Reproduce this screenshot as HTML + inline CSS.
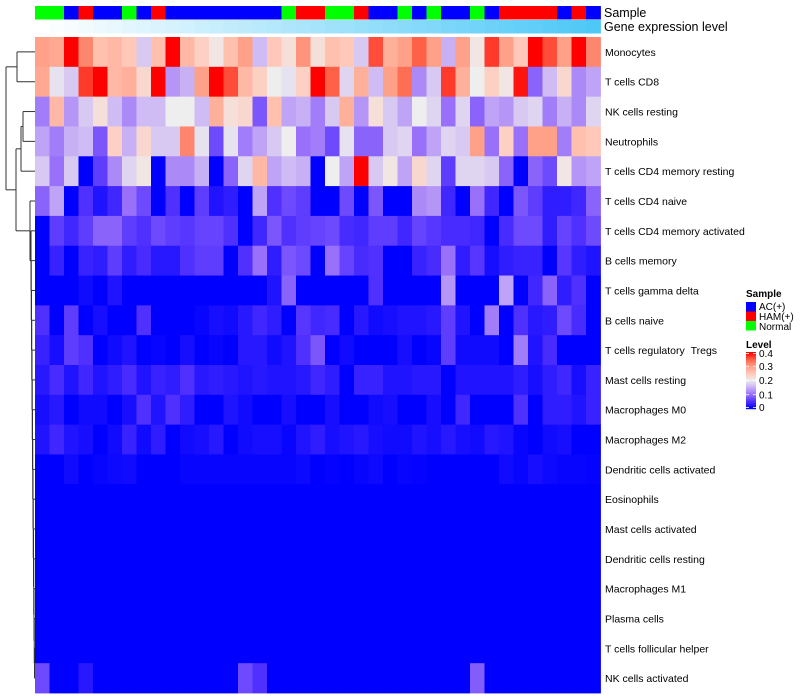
<!DOCTYPE html>
<html><head><meta charset="utf-8"><style>
html,body{margin:0;padding:0;background:#fff;}
svg{display:block;font-family:"Liberation Sans",Arial,sans-serif;}
</style></head><body>
<svg id="chart" width="800" height="700" viewBox="0 0 800 700" xmlns="http://www.w3.org/2000/svg">
<g id="dendro" stroke="#333" stroke-width="1" fill="none"></g>
<g id="topbars"></g>
<g id="cells"></g>
<g id="rowlabels" font-size="10.5" fill="#000"></g>
<text x="604" y="17" font-size="12.5">Sample</text>
<text x="604" y="31" font-size="12.5">Gene expression level</text>
<g>
<text x="746" y="297" font-size="10" font-weight="bold">Sample</text>
<rect x="746" y="302" width="10" height="9.5" fill="#0000ff"/>
<rect x="746" y="311.5" width="10" height="9.5" fill="#ff0000"/>
<rect x="746" y="321" width="10" height="9.5" fill="#00ff00"/>
<text x="759" y="310" font-size="10">AC(+)</text>
<text x="759" y="320" font-size="10">HAM(+)</text>
<text x="759" y="330" font-size="10">Normal</text>
<text x="746" y="348" font-size="10" font-weight="bold">Level</text>
<g id="colorbar"></g>
</g>
</svg>
<script>
const rowNames = ["Monocytes","T cells CD8","NK cells resting","Neutrophils","T cells CD4 memory resting","T cells CD4 naive","T cells CD4 memory activated","B cells memory","T cells gamma delta","B cells naive","T cells regulatory\u00a0\u00a0Tregs","Mast cells resting","Macrophages M0","Macrophages M2","Dendritic cells activated","Eosinophils","Mast cells activated","Dendritic cells resting","Macrophages M1","Plasma cells","T cells follicular helper","NK cells activated"];
const sampleGroups = ["N","N","A","H","A","A","N","A","H","A","A","A","A","A","A","A","A","N","H","H","N","N","H","A","A","N","A","N","A","A","N","A","H","H","H","H","A","H","A"];
const r1 = [.30,.29,.40,.32,.26,.27,.25,.17,.26,.40,.27,.24,.21,.26,.30,.16,.25,.22,.31,.22,.26,.25,.17,.36,.28,.30,.35,.30,.15,.30,.21,.37,.30,.25,.40,.36,.30,.40,.32];
const r2 = [.29,.19,.17,.37,.40,.27,.28,.23,.40,.13,.15,.30,.40,.36,.27,.24,.20,.19,.24,.40,.35,.18,.28,.16,.30,.34,.12,.17,.37,.28,.20,.24,.21,.39,.09,.16,.23,.12,.14];
const r3 = [.11,.27,.13,.17,.22,.16,.12,.16,.16,.20,.20,.16,.28,.22,.23,.08,.26,.14,.15,.11,.17,.28,.13,.22,.17,.14,.20,.18,.10,.18,.09,.14,.13,.17,.18,.11,.15,.12,.18];
const r4 = [.14,.11,.15,.16,.08,.24,.15,.23,.17,.17,.32,.19,.07,.19,.11,.14,.17,.20,.10,.11,.07,.19,.09,.09,.17,.18,.10,.14,.18,.17,.30,.10,.24,.10,.30,.30,.11,.26,.25];
const r5 = [.17,.10,.17,0,.06,.12,.18,.21,0,.12,.12,.15,0,.09,.18,.27,.14,.16,.15,0,.20,.14,.40,.17,.21,.14,.23,.18,.06,.18,.18,.17,.09,0,.09,.07,.21,.13,.14];
const r6 = [.09,.14,0,.05,.02,.04,.10,.07,0,.05,0,.06,.02,.03,0,.14,.05,.07,.06,0,0,.07,0,.08,0,0,.12,.13,.04,0,.10,.04,0,.08,.06,.03,.03,.04,.09];
const r7 = [0,.06,.04,.06,.09,.09,.06,.05,.07,.06,.055,.065,.065,.05,0,.04,.08,.05,.06,.065,.07,.045,.04,.06,.06,.04,.065,.055,.045,.045,.04,0,.045,.07,.07,.03,.065,.05,.07];
const r8 = [0,.035,0,.035,.03,.06,.03,.045,.025,.025,.05,.06,.06,0,.05,.10,.03,.08,.07,0,.10,.065,.045,.05,0,0,.035,.045,.10,.03,.055,.015,.03,.035,.035,0,.055,.03,.02];
const r9 = [0,0,0,.01,0,.02,0,0,0,0,0,0,0,0,0,0,.02,.09,0,0,0,0,0,.05,0,0,0,0,.13,0,0,0,.14,0,.04,.09,.03,.05,0];
const r10 = [.05,0,.06,0,.015,0,0,.05,0,0,0,.005,.015,.01,.025,.04,.03,0,.055,.04,.045,0,.025,.01,.015,.02,.02,.025,.06,.02,0,.11,0,.05,.025,.03,.07,.045,0];
const r11 = [.035,.015,.06,.05,0,.01,.02,0,.005,0,.015,0,.005,0,.025,.025,.01,.02,.05,.08,0,.01,0,0,0,.015,0,.005,.06,.01,.01,.01,0,.11,.02,.045,0,0,0];
const r12 = [.025,.045,.02,.04,.02,.03,.045,.02,.035,.03,.05,.025,.03,.025,.02,.025,.02,.02,.025,.04,.03,0,.035,.035,.02,.02,.025,.025,0,.02,.02,.02,.02,.03,.015,.03,.04,.015,.035];
const r13 = [.015,.025,0,.01,.01,0,.015,.05,.02,.05,.03,0,0,.02,.01,0,0,.015,0,0,.015,0,0,.01,.015,0,0,.015,0,.04,0,0,0,.05,0,.03,.03,.02,.035];
const r14 = [.02,.04,.02,.015,0,.01,.035,.01,.03,0,.01,.015,.025,0,.01,.015,.015,.005,.02,.03,.015,.02,.025,.015,.01,.01,.02,.015,.025,.015,.01,.025,.02,.005,0,.01,.015,0,0];
const r15 = [0,0,.01,0,.005,.008,.01,0,0,0,.005,.005,.005,.005,.005,.005,.005,.005,.008,0,.003,0,.005,.008,0,.005,.003,0,0,0,0,0,.01,.005,.015,.008,.005,.005,.003];
const r16 = [0,0,0,0,0,0,0,0,0,0,0,0,0,0,0,0,0,0,0,0,0,0,0,0,0,0,0,0,0,0,0,0,0,0,0,0,0,0,0];
const r17 = [0,0,0,0,0,0,0,0,0,0,0,0,0,0,0,0,0,0,0,0,0,0,0,0,0,0,0,0,0,0,0,0,0,0,0,0,0,0,0];
const r18 = [0,0,0,0,0,0,0,0,0,0,0,0,0,0,0,0,0,0,0,0,0,0,0,0,0,0,0,0,0,0,0,0,0,0,0,0,0,0,0];
const r19 = [0,0,0,0,0,0,0,0,0,0,0,0,0,0,0,0,0,0,0,0,0,0,0,0,0,0,0,0,0,0,0,0,0,0,0,0,0,0,0];
const r20 = [0,0,0,0,0,0,0,0,0,0,0,0,0,0,0,0,0,0,0,0,0,0,0,0,0,0,0,0,0,0,0,0,0,0,0,0,0,0,0];
const r21 = [0,0,0,0,0,0,0,0,0,0,0,0,0,0,0,0,0,0,0,0,0,0,0,0,0,0,0,0,0,0,0,0,0,0,0,0,0,0,0];
const r22 = [.07,0,0,.025,0,0,0,0,0,0,0,0,0,0,.07,.05,0,0,0,0,0,0,0,0,0,0,0,0,0,0,.085,0,0,0,0,0,0,0,0];
const values = [r1,r2,r3,r4,r5,r6,r7,r8,r9,r10,r11,r12,r13,r14,r15,r16,r17,r18,r19,r20,r21,r22];
const levelTicks = [0,0.1,0.2,0.3,0.4];

const NS = "http://www.w3.org/2000/svg";
const X0 = 35, X1 = 600.5, Y0 = 37, Y1 = 693;
const nCol = sampleGroups.length, nRow = rowNames.length;
const cw = (X1 - X0) / nCol, rh = (Y1 - Y0) / nRow;
function xPos(i){ return X0 + i * cw; }
function yPos(j){ return Y0 + j * rh; }
const stops = [[0,[0,0,255]],[.05,[80,48,255]],[.1,[152,112,250]],[.15,[200,176,245]],[.2,[238,238,238]],[.25,[255,200,184]],[.3,[255,160,136]],[.35,[255,96,72]],[.4,[255,0,0]]];
function colorOf(v){
  v = Math.max(0, Math.min(0.4, v));
  for (let k = 0; k < stops.length - 1; k++) {
    const a = stops[k], b = stops[k+1];
    if (v <= b[0]) {
      const t = (v - a[0]) / (b[0] - a[0]);
      const c = a[1].map((q, m) => Math.round(q + (b[1][m] - q) * t));
      return "rgb(" + c.join(",") + ")";
    }
  }
  return "rgb(255,0,0)";
}
function mk(tag, attrs, parent){
  const e = document.createElementNS(NS, tag);
  for (const k in attrs) e.setAttribute(k, attrs[k]);
  parent.appendChild(e);
  return e;
}
const cells = document.getElementById("cells");
values.forEach((row, j) => {
  row.forEach((v, i) => {
    const r = mk("rect", {x: xPos(i), y: yPos(j), width: cw + 0.4, height: rh + 0.4, fill: colorOf(v)}, cells);
    
    
  });
});
const rl = document.getElementById("rowlabels");
rowNames.forEach((n, j) => {
  const t = mk("text", {x: 605, y: yPos(j) + rh / 2 + 4}, rl);
  t.textContent = n;
  
  
});
const grpColor = {A: "#0000ff", H: "#ff0000", N: "#00ff00"};
const tb = document.getElementById("topbars");
sampleGroups.forEach((g, i) => {
  const r = mk("rect", {x: xPos(i), y: 6, width: cw + 0.4, height: 13.5, fill: grpColor[g]}, tb);
  
  
  const t = i / (nCol - 1);
  const c = [255 + (77 - 255) * t, 255 + (200 - 255) * t, 255 + (247 - 255) * t].map(Math.round);
  const r2e = mk("rect", {x: xPos(i), y: 20, width: cw + 0.4, height: 13.5, fill: "rgb(" + c.join(",") + ")"}, tb);
  
  
});
// colorbar
const cb = document.getElementById("colorbar");
const cbTop = 352, cbBot = 409;
function cbY(v){ return cbBot - (v / 0.4) * (cbBot - cbTop) ; }
for (let k = 0; k < 57; k++) {
  const v = 0.4 * (1 - k / 56);
  mk("rect", {x: 746, y: cbTop + k, width: 10, height: 1.2, fill: colorOf(v)}, cb);
}
levelTicks.forEach(v => {
  const y = Math.min(cbBot - 1.5, Math.max(cbTop + 1.5, cbY(v)));
  mk("line", {x1: 746, x2: 749, y1: y, y2: y, stroke: "#fff", "stroke-width": 0.8}, cb);
  mk("line", {x1: 753, x2: 756, y1: y, y2: y, stroke: "#fff", "stroke-width": 0.8}, cb);
  const t = mk("text", {x: 759, y: y + 3.5, "font-size": 10}, cb);
  t.textContent = v === 0 ? "0" : String(v);
  
  
});
// dendrogram
const dg = document.getElementById("dendro");
function ly(j){ return yPos(j) + rh / 2; }
function seg(x1, y1, x2, y2){ mk("line", {x1: x1, y1: y1, x2: x2, y2: y2}, dg); }
function join(xa, ya, xb, yb, xn){ seg(xa, ya, xn, ya); seg(xb, yb, xn, yb); seg(xn, ya, xn, yb); return [xn, (ya + yb) / 2]; }
const A = join(35, ly(0), 35, ly(1), 17);
const nk = join(35, ly(2), 35, ly(3), 23);
const C = join(nk[0], nk[1], 35, ly(4), 21);
// lower cluster staircase
let D = join(35, ly(20), 35, ly(21), 34.5);
for (let j = 19; j >= 6; j--) {
  D = join(35, ly(j), D[0], D[1], Math.max(31, 34.5 - (20 - j) * 0.25));
}
const E = join(35, ly(5), D[0], D[1], 30);
const B = join(C[0], C[1], E[0], E[1], 16);
join(A[0], A[1], B[0], B[1], 6);
</script>
</body></html>
